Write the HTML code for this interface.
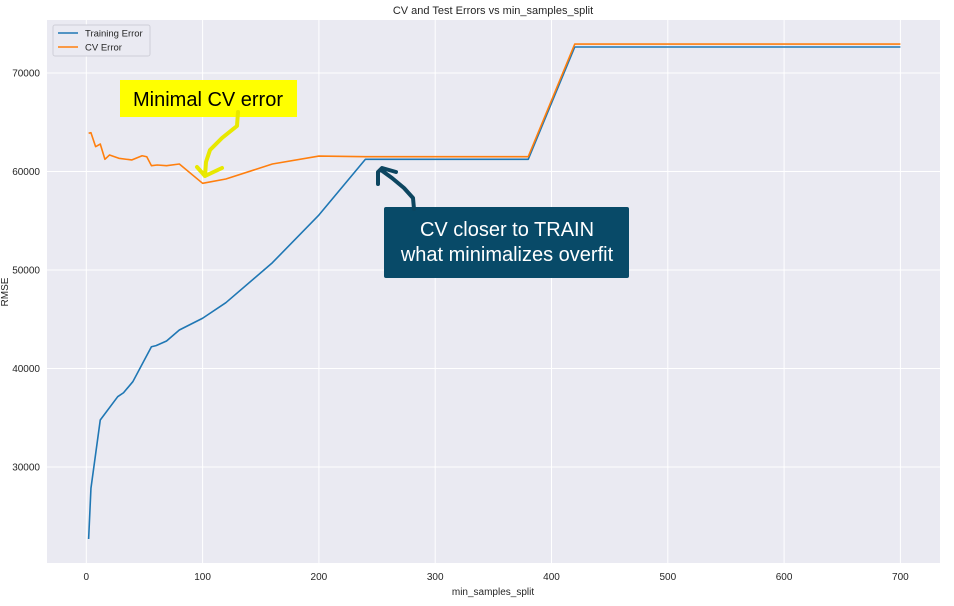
<!DOCTYPE html>
<html><head><meta charset="utf-8"><style>
body{margin:0;background:#fff;font-family:"Liberation Sans",sans-serif;}
svg text{font-family:"Liberation Sans",sans-serif;}
</style></head><body>
<svg id="c" width="954" height="601">
<rect x="47" y="20" width="893" height="543" fill="#eaeaf2"/>
<g id="grid"></g><g id="lines"></g><g id="ticks"></g>
<text x="493" y="14" font-size="11" text-anchor="middle" fill="#262626">CV and Test Errors vs min_samples_split</text>
<text x="493" y="595" font-size="10" text-anchor="middle" fill="#262626">min_samples_split</text>
<text transform="translate(8,292) rotate(-90)" font-size="10" text-anchor="middle" fill="#262626">RMSE</text>
<g>
<rect x="53" y="25" width="97" height="31" rx="2" fill="#eaeaf2" stroke="#cfcfd8"/>
<line x1="58" y1="33" x2="78" y2="33" stroke="#1f77b4" stroke-width="1.6"/>
<text x="85" y="36.5" font-size="9.5" fill="#262626">Training Error</text>
<line x1="58" y1="47" x2="78" y2="47" stroke="#ff7f0e" stroke-width="1.6"/>
<text x="85" y="50.5" font-size="9.5" fill="#262626">CV Error</text>
</g>
<g>
<rect x="120" y="80" width="177" height="37" fill="#ffff00"/>
<text x="208" y="106" font-size="20" text-anchor="middle" fill="#000">Minimal CV error</text>
<path d="M238,112 L237,126 L222,138 L210,150 L206,162 L205,176 M197,167 L205,176 L222,168" fill="none" stroke="#e8e800" stroke-width="4" stroke-linecap="round" stroke-linejoin="round"/>
</g>
<g>
<rect x="384" y="207" width="245" height="71" rx="2" fill="#084a68"/>
<text x="507" y="236" font-size="20" text-anchor="middle" fill="#fff">CV closer to TRAIN</text>
<text x="507" y="261" font-size="20" text-anchor="middle" fill="#fff">what minimalizes overfit</text>
<path d="M414,209 L413,198 L404,188 L392,178 L381,170 M378,184 L378,172 L382,168 L396,172" fill="none" stroke="#0d4660" stroke-width="4" stroke-linecap="round" stroke-linejoin="round"/>
</g>
</svg>
<script>
const xTicks=[0,100,200,300,400,500,600,700];
const yTicks=[30000,40000,50000,60000,70000];
const trainX=[2,4,12,27,32,40,56,60,69,80,100,120,160,200,240,380,420,700];
const trainY=[22690,27840,34770,37140,37540,38660,42210,42320,42790,43910,45100,46680,50740,55580,61240,61240,72640,72640];
const cvX=[2,4,8,12,16,20,28,39,48,52,56,61,69,80,100,120,160,200,240,380,420,700];
const cvY=[63880,63940,62520,62790,61240,61680,61340,61170,61600,61500,60590,60660,60590,60760,58800,59240,60760,61570,61500,61500,72940,72940];
const sx=v=>86.3+v*1.163;
const sy=v=>73-(v-70000)*0.00985;
const NS="http://www.w3.org/2000/svg";
const g=document.getElementById('grid'),t=document.getElementById('ticks'),L=document.getElementById('lines');
function mk(tag,at,p){const e=document.createElementNS(NS,tag);for(const k in at)e.setAttribute(k,at[k]);p.appendChild(e);return e;}
xTicks.forEach(v=>{
 const l=mk('line',{x1:sx(v),x2:sx(v),y1:20,y2:563,stroke:'#fff','stroke-width':1},g);
 
 
 const tx=mk('text',{x:sx(v),y:580,'font-size':10,'text-anchor':'middle',fill:'#262626'},t);
 tx.textContent=v;
 
 
});
yTicks.forEach(v=>{
 const l=mk('line',{x1:47,x2:940,y1:sy(v),y2:sy(v),stroke:'#fff','stroke-width':1},g);
 
 
 const tx=mk('text',{x:40,y:sy(v)+3.5,'font-size':10,'text-anchor':'end',fill:'#262626'},t);
 tx.textContent=v;
 
 
});
function line(xs,ys,c,name){
 const p=mk('polyline',{points:xs.map((x,i)=>sx(x)+','+sy(ys[i])).join(' '),fill:'none',stroke:c,'stroke-width':1.6,'stroke-linejoin':'round'},L);
 
 
}
line(trainX,trainY,'#1f77b4','training-error-line');
line(cvX,cvY,'#ff7f0e','cv-error-line');
</script>
</body></html>
